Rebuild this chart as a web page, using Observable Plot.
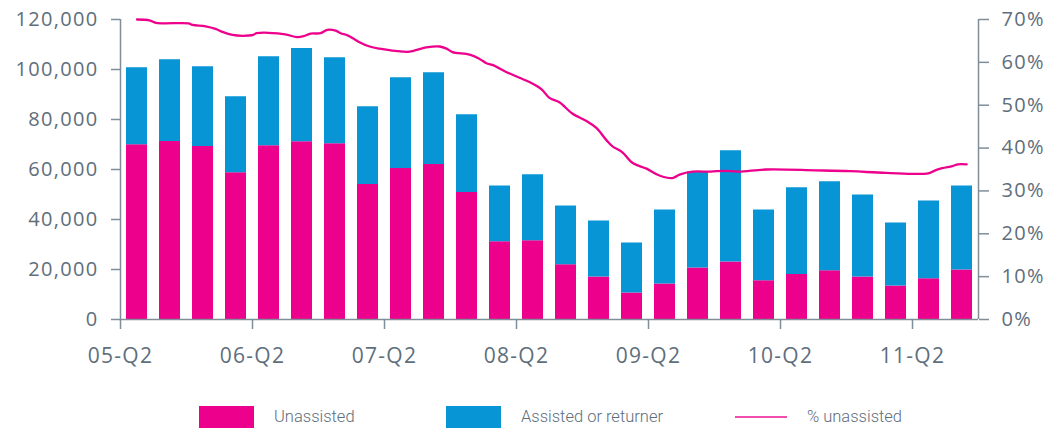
<!DOCTYPE html>
<html>
<head>
<meta charset="utf-8">
<script src="https://cdn.jsdelivr.net/npm/d3@7"></script>
<script src="https://cdn.jsdelivr.net/npm/@observablehq/plot@0.6"></script>
<style>
  html, body { margin: 0; padding: 0; background: #fff; }
  #chart svg text { letter-spacing: 1.3px; }
  #legend { position: relative; width: 1051px; height: 30px; font-family: Roboto, "Open Sans", sans-serif; font-size: 16.5px; color: #5e6e7b; font-weight: 300; }
  #legend .sw { position: absolute; top: 6px; width: 55px; height: 22px; }
  #legend .ln { position: absolute; top: 16px; width: 52px; height: 2px; }
  #legend .lb { position: absolute; top: 6px; line-height: 22px; white-space: nowrap; }
</style>
</head>
<body>
<div id="chart"></div>
<div id="legend"></div>
<script>
// ---- data ----
const quarters = ["05-Q2","05-Q3","05-Q4","06-Q1","06-Q2","06-Q3","06-Q4","07-Q1","07-Q2","07-Q3","07-Q4","08-Q1","08-Q2","08-Q3","08-Q4","09-Q1","09-Q2","09-Q3","09-Q4","10-Q1","10-Q2","10-Q3","10-Q4","11-Q1","11-Q2","11-Q3"];
const unassisted = [69900, 71200, 69200, 58700, 69500, 71100, 70300, 54000, 60400, 62000, 50800, 31100, 31500, 21900, 17000, 10600, 14200, 20600, 23000, 15500, 18000, 19500, 17000, 13400, 16300, 19800];
const assisted   = [30800, 32700, 31900, 30400, 35600, 37300, 34400, 31100, 36300, 36700, 31100, 22300, 26400, 23500, 22400, 20000, 29600, 38500, 44500, 28300, 34700, 35600, 32800, 25200, 31100, 33600];
// % unassisted line: position in quarters from start of 05-Q2, and percentage
const linePos = [0.5, 0.88, 1.08, 2.06, 2.18, 2.58, 2.88, 3.09, 3.39, 3.70, 4.02, 4.12, 4.94, 5.35, 5.55, 5.76, 6.06, 6.27, 6.52, 6.67, 6.88, 7.09, 7.24, 7.55, 7.85, 8.55, 8.76, 9.27, 9.67, 9.88, 10.06, 10.58, 10.88, 11.09, 11.27, 11.70, 12.09, 12.39, 12.76, 13.0, 13.3, 13.7, 14.12, 14.42, 14.73, 14.91, 15.21, 15.52, 15.94, 16.33, 16.73, 16.94, 17.33, 17.88, 18.30, 18.73, 19.58, 21.06, 22.12, 23.20, 24.48, 24.69, 24.90, 25.21, 25.38, 25.64];
const linePct = [70.0, 69.8, 69.2, 69.1, 68.75, 68.4, 67.8, 67.1, 66.4, 66.2, 66.4, 66.8, 66.6, 65.9, 66.1, 66.7, 66.8, 67.6, 67.4, 66.8, 66.3, 65.4, 64.7, 63.7, 63.2, 62.5, 62.5, 63.5, 63.7, 63.2, 62.4, 61.8, 60.8, 59.8, 59.4, 57.7, 56.4, 55.4, 53.7, 51.7, 50.7, 48.0, 46.3, 44.7, 41.8, 40.4, 39.0, 36.5, 35.2, 33.6, 33.0, 33.8, 34.5, 34.5, 34.7, 34.5, 35.0, 34.8, 34.6, 34.2, 34.1, 34.8, 35.3, 35.8, 36.2, 36.2];
const leftTicks = [0, 20000, 40000, 60000, 80000, 100000, 120000];
const rightTicks = [0, 10, 20, 30, 40, 50, 60, 70];
const seriesNames = ["Unassisted", "Assisted or returner", "% unassisted"];
const colors = ["#EC008C", "#0895D6"];

// ---- tables ----
const yMax = leftTicks[leftTicks.length - 1];
const pMax = rightTicks[rightTicks.length - 1];
const bars = [];
quarters.forEach((q, i) => bars.push({i, series: seriesNames[0], value: unassisted[i]}));
quarters.forEach((q, i) => bars.push({i, series: seriesNames[1], value: assisted[i]}));
const line = linePos.map((p, k) => ({x: p, y: linePct[k] / pMax * yMax}));

const textColor = "#5e6e7b";
const axisColor = "#7f8e99";

const chart = Plot.plot({
  width: 1051,
  height: 400,
  marginLeft: 120,
  marginRight: 73,
  marginTop: 19,
  marginBottom: 81,
  style: {fontFamily: "'Open Sans', sans-serif", fontSize: "20px", color: textColor, background: "#fff"},
  x: {domain: [0, quarters.length], axis: null},
  y: {domain: [0, yMax], axis: null},
  color: {domain: seriesNames.slice(0, 2), range: colors},
  marks: [
    Plot.rectY(bars, {x: "i", y: "value", interval: 1, fill: "series", insetLeft: 6, insetRight: 6}),
    Plot.line(line, {x: "x", y: "y", stroke: colors[0], strokeWidth: 2.3, curve: "catmull-rom"}),
    Plot.ruleX([0], {y1: 0, y2: yMax, stroke: axisColor, strokeWidth: 1.5}),
    Plot.ruleX([quarters.length], {y1: 0, y2: yMax, stroke: axisColor, strokeWidth: 1.5}),
    Plot.ruleY([0], {stroke: axisColor, strokeWidth: 1.5}),
    Plot.axisY(leftTicks, {anchor: "left", label: null, tickSize: 9, tickPadding: 13, tickFormat: d3.format(","), stroke: axisColor, strokeWidth: 1.5, fill: textColor, fontSize: 20}),
    Plot.axisY(rightTicks.map(p => p / pMax * yMax), {anchor: "right", label: null, tickSize: 10, tickPadding: 13, tickFormat: d => Math.round(d / yMax * pMax) + "%", stroke: axisColor, strokeWidth: 1.5, fill: textColor, fontSize: 20}),
    Plot.axisX(d3.range(0, quarters.length, 4), {anchor: "bottom", label: null, tickSize: 10, tickPadding: 19, tickFormat: d => quarters[d], stroke: axisColor, strokeWidth: 1.5, fill: textColor, fontSize: 21})
  ]
});
document.getElementById("chart").appendChild(chart);

// ---- legend ----
const legend = document.getElementById("legend");
const items = [
  {kind: "sw", color: colors[0], left: 199, label: seriesNames[0], labelLeft: 274},
  {kind: "sw", color: colors[1], left: 446, label: seriesNames[1], labelLeft: 521},
  {kind: "ln", color: colors[0], left: 735, label: seriesNames[2], labelLeft: 807}
];
items.forEach(it => {
  const s = document.createElement("div");
  s.className = it.kind;
  s.style.left = it.left + "px";
  s.style.background = it.color;
  if (it.kind === "ln") s.style.opacity = 0.7;
  legend.appendChild(s);
  const t = document.createElement("div");
  t.className = "lb";
  t.style.left = it.labelLeft + "px";
  t.textContent = it.label;
  legend.appendChild(t);
});
</script>
</body>
</html>
